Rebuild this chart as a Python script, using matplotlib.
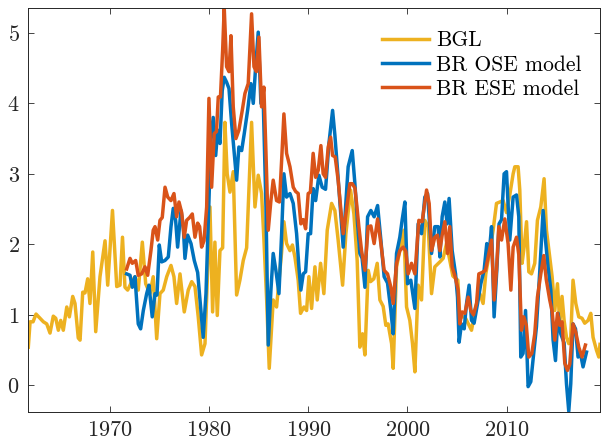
import matplotlib
matplotlib.use("Agg")
import matplotlib.pyplot as plt

# --- data (decimal years, values) ---
bgl_year = [1961.76, 1961.94, 1962.24, 1962.54, 1962.94, 1963.28, 1963.62, 1963.95, 1964.28, 1964.53,
            1964.79, 1965.03, 1965.29, 1965.64, 1965.90, 1966.24, 1966.47, 1966.80, 1966.98, 1967.25,
            1967.48, 1967.75, 1967.98, 1968.26, 1968.56, 1968.99, 1969.50, 1969.77, 1970.25, 1970.68,
            1971.01, 1971.26, 1971.51, 1971.78, 1972.19, 1972.52, 1972.85, 1973.26, 1973.60, 1974.03,
            1974.36, 1974.71, 1975.04, 1975.37, 1975.72, 1976.15, 1976.45, 1976.72, 1977.06, 1977.49,
            1977.89, 1978.24, 1978.57, 1978.90, 1979.24, 1979.58, 1980.08, 1980.35, 1980.58, 1980.82,
            1981.09, 1981.36, 1981.59, 1981.82, 1982.10, 1982.43, 1982.77, 1983.10, 1983.44, 1983.78,
            1984.28, 1984.62, 1984.95, 1985.29, 1985.52, 1985.80, 1986.06, 1986.46, 1986.80, 1987.31,
            1987.54, 1987.81, 1988.15, 1988.40, 1988.65, 1988.98, 1989.22, 1989.56, 1989.83, 1990.06,
            1990.33, 1990.67, 1990.90, 1991.24, 1991.57, 1991.91, 1992.35, 1992.68, 1993.01, 1993.46,
            1993.79, 1994.26, 1994.60, 1994.93, 1995.20, 1995.47, 1995.71, 1996.04, 1996.28, 1996.61,
            1996.95, 1997.22, 1997.55, 1997.82, 1998.05, 1998.40, 1998.56, 1998.90, 1999.23, 1999.64,
            1999.91, 2000.24, 2000.51, 2000.75, 2001.08, 2001.42, 2001.75, 2002.09, 2002.43, 2002.76,
            2003.27, 2003.60, 2003.94, 2004.58, 2005.08, 2005.28, 2005.79, 2006.46, 2006.97, 2007.30,
            2007.63, 2007.90, 2008.31, 2008.64, 2008.98, 2009.31, 2009.65, 2009.99, 2010.32, 2010.66,
            2010.83, 2011.16, 2011.33, 2011.56, 2011.76, 2012.01, 2012.24, 2012.51, 2012.84, 2013.11,
            2013.45, 2013.78, 2014.02, 2014.35, 2014.59, 2014.86, 2015.13, 2015.36, 2015.59, 2015.80,
            2016.04, 2016.27, 2016.47, 2016.70, 2016.98, 2017.28, 2017.61, 2017.88, 2018.22, 2018.49,
            2018.72, 2019.06, 2019.30, 2019.42]
bgl_val = [0.54, 0.90, 0.90, 1.01, 0.95, 0.90, 0.87, 0.74, 0.98, 0.95,
           0.78, 0.92, 0.78, 1.11, 0.97, 1.26, 1.16, 0.67, 0.64, 1.32,
           1.31, 1.51, 1.16, 1.89, 0.76, 1.54, 2.05, 1.42, 2.48, 1.40,
           1.42, 2.10, 1.39, 1.35, 1.47, 1.54, 1.35, 2.03, 1.44, 1.30,
           1.54, 0.66, 1.30, 1.35, 1.54, 1.70, 1.54, 1.16, 1.58, 1.04,
           1.35, 1.47, 1.40, 0.97, 0.43, 0.59, 2.53, 1.04, 2.03, 0.99,
           1.91, 1.95, 3.73, 3.00, 2.74, 3.03, 1.28, 1.49, 1.77, 1.95,
           3.73, 2.53, 2.98, 2.72, 2.08, 1.21, 0.24, 1.21, 1.11, 1.89,
           2.32, 2.01, 1.91, 1.99, 1.82, 1.49, 1.02, 1.11, 1.06, 1.54,
           1.09, 1.68, 1.21, 1.73, 1.30, 2.20, 2.58, 2.48, 2.06, 1.42,
           2.15, 2.77, 2.43, 1.77, 0.54, 0.73, 0.43, 1.63, 1.47, 1.51,
           1.73, 1.21, 1.12, 0.85, 0.87, 0.59, 0.24, 1.68, 1.91, 2.20,
           1.11, 0.92, 0.59, 0.19, 1.42, 1.21, 2.34, 2.25, 1.30, 1.68,
           1.75, 1.80, 2.01, 1.55, 1.49, 0.97, 0.97, 0.78, 1.16, 1.30,
           1.16, 1.58, 1.91, 2.20, 2.58, 2.60, 2.62, 2.45, 2.70, 3.00,
           3.10, 3.10, 2.77, 1.73, 1.95, 2.32, 1.61, 1.58, 1.73, 2.34,
           2.53, 2.93, 2.20, 1.82, 1.54, 1.06, 1.44, 0.88, 1.26, 0.92,
           0.68, 0.59, 0.68, 1.49, 1.16, 0.97, 0.95, 0.88, 0.92, 1.02,
           0.68, 0.50, 0.40, 0.58]

ose_year = [1971.68, 1972.02, 1972.25, 1972.52, 1972.85, 1973.09, 1973.36, 1973.70, 1973.93, 1974.26,
            1974.54, 1974.74, 1974.97, 1975.21, 1975.54, 1975.88, 1976.15, 1976.38, 1976.62, 1976.82,
            1977.16, 1977.39, 1977.56, 1977.83, 1978.17, 1978.50, 1978.84, 1979.14, 1979.40, 1979.68,
            1979.98, 1980.18, 1980.41, 1980.66, 1980.86, 1981.09, 1981.32, 1981.52, 1981.76, 1982.00,
            1982.27, 1982.53, 1982.77, 1983.00, 1983.28, 1983.54, 1983.88, 1984.21, 1984.45, 1984.69,
            1984.95, 1985.22, 1985.47, 1985.73, 1985.96, 1986.23, 1986.46, 1986.73, 1987.04, 1987.31,
            1987.54, 1987.81, 1988.15, 1988.48, 1988.82, 1989.05, 1989.25, 1989.49, 1989.73, 1989.99,
            1990.23, 1990.49, 1990.74, 1991.07, 1991.40, 1991.74, 1992.08, 1992.45, 1992.68, 1992.95,
            1993.29, 1993.52, 1993.76, 1994.02, 1994.43, 1994.70, 1994.97, 1995.20, 1995.43, 1995.71,
            1995.98, 1996.31, 1996.64, 1996.99, 1997.32, 1997.65, 1997.99, 1998.33, 1998.56, 1998.90,
            1999.23, 1999.47, 1999.74, 2000.01, 2000.34, 2000.75, 2001.08, 2001.42, 2001.75, 2002.03,
            2002.43, 2002.76, 2003.10, 2003.27, 2003.50, 2003.77, 2004.00, 2004.20, 2004.51, 2004.85,
            2005.05, 2005.21, 2005.45, 2005.72, 2005.96, 2006.22, 2006.46, 2006.72, 2007.07, 2007.40,
            2007.73, 2008.00, 2008.24, 2008.48, 2008.74, 2009.01, 2009.24, 2009.49, 2009.75, 2009.99,
            2010.32, 2010.66, 2011.00, 2011.23, 2011.43, 2011.66, 2011.91, 2012.17, 2012.44, 2012.77,
            2013.01, 2013.35, 2013.68, 2013.92, 2014.18, 2014.46, 2014.69, 2014.93, 2015.19, 2015.46,
            2015.80, 2016.04, 2016.27, 2016.47, 2016.70, 2016.95, 2017.21, 2017.45, 2017.71, 2018.06]
ose_val = [1.58, 1.56, 1.39, 1.54, 0.87, 0.80, 1.06, 1.30, 1.42, 0.97,
           1.30, 1.28, 1.99, 1.75, 1.77, 1.82, 2.25, 2.51, 2.34, 1.96,
           2.48, 2.25, 1.80, 2.13, 2.01, 1.77, 1.60, 1.10, 0.68, 1.30,
           2.60, 3.50, 3.80, 3.26, 3.62, 3.43, 4.18, 4.37, 4.30, 4.21,
           3.71, 3.29, 2.91, 3.38, 3.33, 3.57, 3.90, 4.28, 4.00, 4.52,
           5.01, 4.00, 3.95, 2.53, 0.57, 1.35, 1.87, 1.63, 1.30, 2.15,
           3.00, 2.67, 2.72, 2.58, 2.15, 1.68, 1.35, 1.58, 1.61, 2.15,
           2.15, 2.79, 2.62, 2.98, 2.81, 2.78, 3.43, 3.90, 3.55, 3.05,
           2.39, 1.96, 2.53, 3.10, 3.33, 2.86, 2.29, 1.87, 1.80, 1.39,
           2.39, 2.48, 2.39, 2.55, 2.06, 1.54, 1.45, 1.06, 0.73, 1.87,
           2.10, 2.35, 2.60, 1.44, 1.49, 1.09, 2.29, 2.15, 2.67, 2.72,
           1.87, 2.25, 2.25, 1.82, 2.39, 2.60, 2.29, 2.65, 1.91, 1.58,
           1.25, 0.61, 0.87, 0.80, 1.16, 1.42, 0.92, 0.88, 1.16, 1.44,
           1.63, 2.01, 1.87, 2.25, 0.97, 1.63, 2.29, 2.35, 3.00, 3.03,
           2.06, 2.67, 2.70, 2.39, 0.40, 0.45, 1.06, -0.02, 0.05, 0.50,
           0.83, 1.63, 2.48, 2.06, 1.68, 1.35, 0.64, 0.35, 1.02, 0.73,
           0.60, 0.02, -0.37, 0.02, 0.87, 0.80, 0.40, 0.45, 0.26, 0.47]

ese_year = [1971.68, 1972.02, 1972.25, 1972.59, 1972.85, 1973.20, 1973.53, 1973.80, 1974.13, 1974.36,
            1974.54, 1974.81, 1975.04, 1975.27, 1975.55, 1975.82, 1976.15, 1976.45, 1976.72, 1976.96,
            1977.23, 1977.49, 1977.73, 1978.03, 1978.30, 1978.57, 1978.84, 1979.04, 1979.24, 1979.48,
            1979.75, 1979.98, 1980.25, 1980.51, 1980.74, 1980.92, 1981.14, 1981.36, 1981.52, 1981.76,
            1982.00, 1982.20, 1982.43, 1982.70, 1983.00, 1983.34, 1983.61, 1983.94, 1984.28, 1984.52,
            1984.77, 1985.02, 1985.29, 1985.52, 1985.73, 1985.96, 1986.23, 1986.46, 1986.80, 1987.09,
            1987.31, 1987.54, 1987.81, 1988.15, 1988.48, 1988.72, 1988.98, 1989.25, 1989.49, 1989.73,
            1989.99, 1990.21, 1990.49, 1990.74, 1991.00, 1991.27, 1991.50, 1991.74, 1992.01, 1992.25,
            1992.45, 1992.71, 1993.01, 1993.29, 1993.52, 1993.84, 1994.19, 1994.43, 1994.70, 1994.87,
            1995.10, 1995.37, 1995.71, 1996.04, 1996.31, 1996.64, 1996.99, 1997.32, 1997.65, 1997.99,
            1998.33, 1998.56, 1998.90, 1999.23, 1999.57, 1999.84, 2000.07, 2000.41, 2000.75, 2001.15,
            2001.48, 2001.93, 2002.19, 2002.43, 2002.76, 2003.03, 2003.27, 2003.50, 2003.77, 2004.04,
            2004.27, 2004.51, 2004.81, 2005.11, 2005.28, 2005.51, 2005.79, 2006.12, 2006.39, 2006.66,
            2006.97, 2007.20, 2007.53, 2007.87, 2008.21, 2008.48, 2008.74, 2008.98, 2009.21, 2009.49,
            2009.82, 2010.15, 2010.43, 2010.66, 2011.00, 2011.23, 2011.50, 2011.73, 2011.99, 2012.24,
            2012.54, 2012.84, 2013.11, 2013.45, 2013.75, 2014.00, 2014.35, 2014.59, 2014.86, 2015.13,
            2015.36, 2015.59, 2015.87, 2016.14, 2016.37, 2016.70, 2016.98, 2017.28, 2017.61, 2017.95]
ese_val = [1.65, 1.80, 1.73, 1.77, 1.56, 1.58, 1.68, 1.56, 1.91, 2.20,
           2.25, 2.06, 2.34, 2.38, 2.81, 2.67, 2.62, 2.72, 2.39, 2.60,
           2.45, 2.10, 2.34, 2.38, 2.43, 2.10, 2.30, 2.25, 1.96, 2.05,
           2.53, 4.07, 2.81, 3.57, 3.60, 4.09, 4.09, 4.75, 5.36, 4.52,
           4.45, 4.96, 3.95, 3.50, 3.62, 3.90, 4.14, 4.28, 5.27, 4.52,
           4.45, 4.94, 3.95, 4.23, 3.30, 2.20, 2.62, 2.91, 2.62, 2.60,
           3.19, 3.85, 3.29, 3.10, 2.81, 2.75, 2.72, 2.29, 2.35, 2.22,
           2.72, 2.74, 3.29, 2.95, 3.05, 3.40, 3.00, 2.95, 3.38, 3.52,
           3.26, 3.24, 2.91, 2.48, 2.15, 2.48, 2.86, 2.86, 2.80, 2.58,
           2.25, 1.91, 1.63, 2.25, 2.26, 2.01, 2.36, 2.01, 1.63, 1.58,
           1.39, 1.16, 1.73, 1.91, 1.96, 1.90, 1.58, 1.73, 1.58, 2.34,
           2.32, 2.77, 2.58, 1.91, 2.10, 2.13, 1.91, 2.13, 2.32, 1.87,
           2.25, 1.68, 1.54, 1.35, 0.87, 1.04, 1.02, 1.25, 1.06, 1.00,
           1.16, 1.58, 1.60, 1.63, 1.87, 2.06, 1.21, 1.63, 2.25, 2.06,
           2.36, 2.01, 1.35, 1.96, 2.10, 1.85, 0.78, 0.97, 0.85, 0.40,
           0.45, 0.73, 1.25, 1.58, 1.84, 1.50, 1.21, 1.05, 0.64, 1.02,
           0.85, 0.90, 0.31, 0.21, 0.30, 0.87, 0.75, 0.54, 0.40, 0.57]

labels = ["BGL", "BR OSE model", "BR ESE model"]
colors = ["#EDB120", "#0072BD", "#D95319"]
xticks = [1970, 1980, 1990, 2000, 2010]
yticks = [0, 1, 2, 3, 4, 5]

plt.rcParams["font.family"] = ["cmr10", "DejaVu Serif"]
plt.rcParams["mathtext.fontset"] = "cm"
plt.rcParams["axes.formatter.use_mathtext"] = True

W, H = 601, 443
fig = plt.figure(figsize=(W / 100, H / 100), dpi=100)
ax = fig.add_axes([28 / W, 1 - 412 / H, 572 / W, 404.5 / H])

for (xs, ys), lab, col in zip([(bgl_year, bgl_val), (ose_year, ose_val), (ese_year, ese_val)],
                              labels, colors):
    ax.plot(xs, ys, color=col, lw=2.5, label=lab, solid_joinstyle="round")

ax.set_xlim(1961.73, 2019.42)
ax.set_ylim(-0.38, 5.36)
ax.set_xticks(xticks)
ax.set_yticks(yticks)
ax.tick_params(direction="in", length=4, width=0.6, colors="#262626",
               top=True, right=True, labelsize=16, pad=6)
for s in ax.spines.values():
    s.set_color("#262626")
    s.set_linewidth(0.7)

ax.legend(loc="upper left", bbox_to_anchor=((382 - 28) / 572, 0.942), frameon=False,
          fontsize=15.5, handlelength=2.2, handletextpad=0.3, labelspacing=0.22,
          borderpad=0, borderaxespad=0)

fig.savefig("out.png", dpi=100)
